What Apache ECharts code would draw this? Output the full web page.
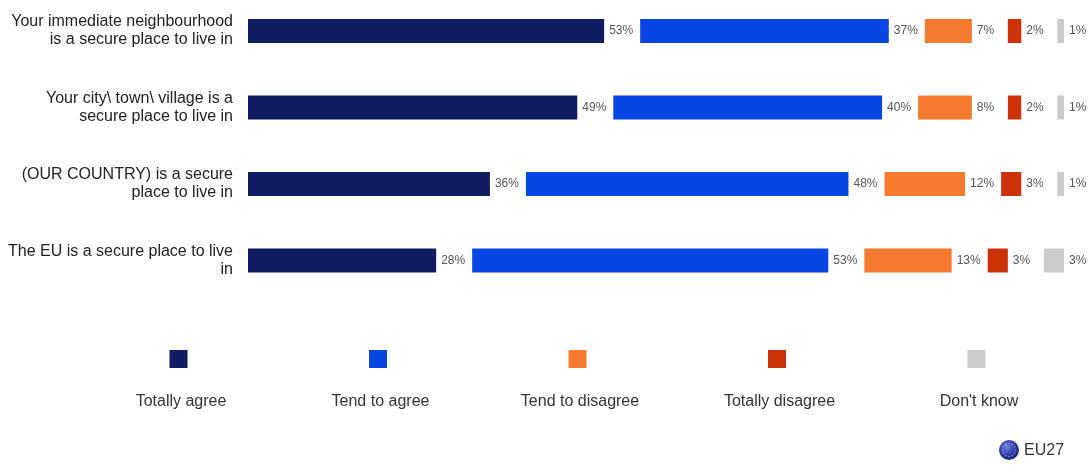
<!DOCTYPE html>
<html>
<head>
<meta charset="utf-8">
<script src="https://cdn.jsdelivr.net/npm/echarts@6/dist/echarts.min.js"></script>
<style>
  html, body { margin: 0; padding: 0; background: #ffffff; }
  #chart { width: 1092px; height: 469px; }
</style>
</head>
<body>
<div id="chart"></div>
<script>
// Survey statements (rows, top to bottom)
const categories = [
  'Your immediate neighbourhood\nis a secure place to live in',
  'Your city\\ town\\ village is a\nsecure place to live in',
  '(OUR COUNTRY) is a secure\nplace to live in',
  'The EU is a secure place to live\nin'
];

// Answer categories
const answerNames = ['Totally agree', 'Tend to agree', 'Tend to disagree', 'Totally disagree', "Don't know"];

// Shares of respondents, in %
const totallyAgree    = [53, 49, 36, 28];
const tendToAgree     = [37, 40, 48, 53];
const tendToDisagree  = [7, 8, 12, 13];
const totallyDisagree = [2, 2, 3, 3];
const dontKnow        = [1, 1, 1, 3];

const answerValues = [totallyAgree, tendToAgree, tendToDisagree, totallyDisagree, dontKnow];
const answerColors = ['#121c63', '#0846e3', '#f47a30', '#cc3208', '#cbcbcb'];

const FONT = '"Liberation Sans", Arial, Helvetica, sans-serif';
const X_MAX = 120;          // axis units spanned by the plot width
const PX_PER_UNIT = 6.72;   // horizontal scale of the bars
const GAP = 36 / PX_PER_UNIT; // blank space left after each segment for its label

const chart = echarts.init(document.getElementById('chart'), null, { renderer: 'canvas' });

const series = [];
answerNames.forEach((name, i) => {
  series.push({
    name: name,
    type: 'bar',
    stack: 'total',
    barWidth: 24,
    clip: false,
    itemStyle: { color: answerColors[i] },
    label: {
      show: true,
      position: 'right',
      distance: 5,
      formatter: '{c}%',
      color: '#555555',
      fontFamily: FONT,
      fontSize: 12
    },
    emphasis: { disabled: true },
    data: answerValues[i]
  });
  if (i < answerNames.length - 1) {
    series.push({
      name: 'spacer' + i,
      type: 'bar',
      stack: 'total',
      barWidth: 24,
      clip: false,
      silent: true,
      itemStyle: { color: 'rgba(0,0,0,0)' },
      emphasis: { disabled: true },
      data: categories.map(() => GAP)
    });
  }
});

// Legend: swatch above its caption
const legendGraphics = [];
answerNames.forEach((name, i) => {
  const cx = 178.5 + i * 199.5;
  legendGraphics.push({
    type: 'rect',
    shape: { x: cx - 9, y: 350, width: 18, height: 18 },
    style: { fill: answerColors[i] },
    silent: true
  });
  legendGraphics.push({
    type: 'text',
    x: cx + 2.5,
    y: 402,
    style: {
      text: name,
      fill: '#333333',
      font: '16px ' + FONT,
      textAlign: 'center',
      textVerticalAlign: 'middle'
    },
    silent: true
  });
});

// EU27 badge in the bottom-right corner
const starDots = [];
for (let k = 0; k < 12; k++) {
  const a = (k / 12) * Math.PI * 2;
  starDots.push({
    type: 'circle',
    shape: { cx: 1009 + Math.cos(a) * 6.5, cy: 450 + Math.sin(a) * 6.5, r: 0.8 },
    style: { fill: 'rgba(200,210,255,0.6)' },
    silent: true
  });
}
legendGraphics.push({
  type: 'circle',
  shape: { cx: 1009, cy: 450, r: 10 },
  style: {
    fill: new echarts.graphic.RadialGradient(0.4, 0.35, 0.7, [
      { offset: 0, color: '#6f7fe0' },
      { offset: 0.6, color: '#2d3aa8' },
      { offset: 1, color: '#1a226e' }
    ])
  },
  silent: true
});
legendGraphics.push(...starDots);
legendGraphics.push({
  type: 'text',
  x: 1024,
  y: 451,
  style: {
    text: 'EU27',
    fill: '#333333',
    font: '16px ' + FONT,
    textAlign: 'left',
    textVerticalAlign: 'middle'
  },
  silent: true
});

const option = {
  backgroundColor: '#ffffff',
  animation: false,
  grid: {
    left: 248,
    top: 31,
    width: X_MAX * PX_PER_UNIT,
    height: 229.5,
    containLabel: false
  },
  xAxis: {
    type: 'value',
    min: 0,
    max: X_MAX,
    show: false
  },
  yAxis: {
    type: 'category',
    inverse: true,
    boundaryGap: false,
    data: categories,
    axisLine: { show: false },
    axisTick: { show: false },
    splitLine: { show: false },
    axisLabel: {
      margin: 15,
      color: '#222222',
      fontFamily: FONT,
      fontSize: 16,
      lineHeight: 18,
      align: 'right'
    }
  },
  series: series,
  graphic: legendGraphics
};

chart.setOption(option);
</script>
</body>
</html>
